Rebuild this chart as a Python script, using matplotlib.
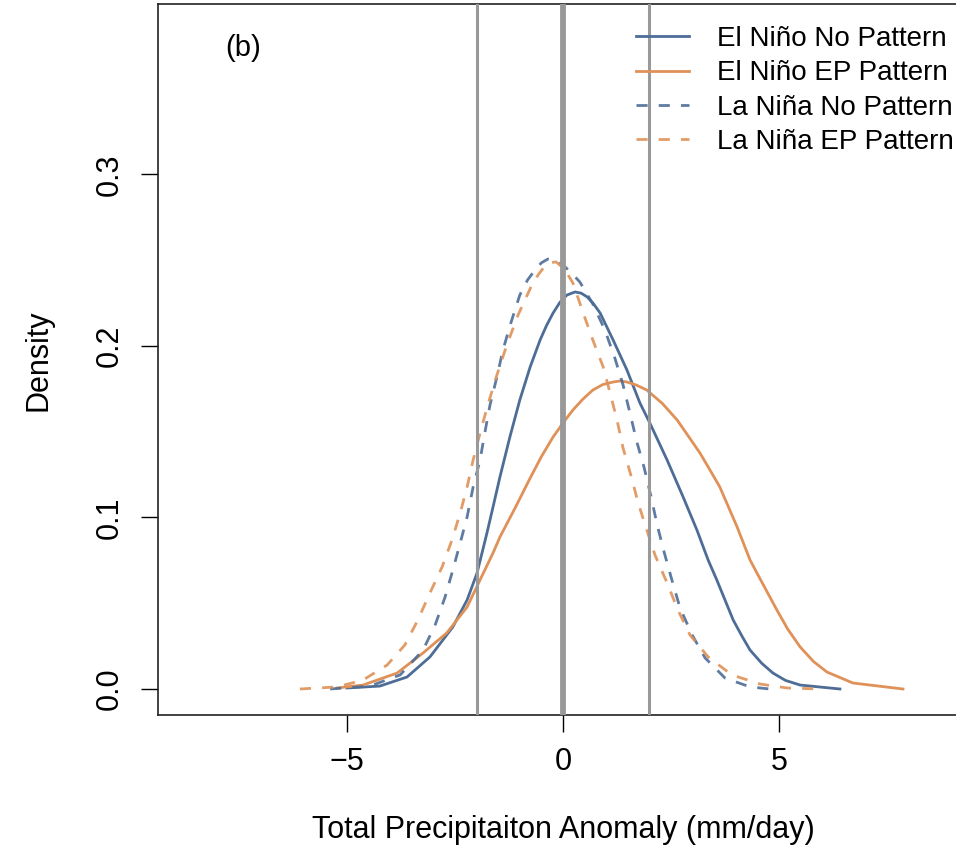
import numpy as np
import matplotlib.pyplot as plt

plt.rcParams['font.family'] = ['Liberation Sans', 'DejaVu Sans']

# curves (x: anomaly in mm/day, y: density)
nino_no_x = [-5.00, -4.24, -3.61, -3.08, -2.55, -2.22, -1.99, -1.76, -1.62, -1.46,
             -1.23, -1.00, -0.76, -0.53, -0.38, -0.23, -0.07, 0.09, 0.28, 0.42,
             0.56, 0.70, 0.86, 1.16, 1.48, 1.78, 2.01, 2.41, 2.78, 3.10,
             3.36, 3.56, 3.94, 4.15, 4.33, 4.60, 4.86, 5.15, 5.49, 6.41]
nino_no_y = [0.0006, 0.0017, 0.0070, 0.0187, 0.0362, 0.0519, 0.0676, 0.0910, 0.1061, 0.1236,
             0.1469, 0.1685, 0.1878, 0.2035, 0.2120, 0.2192, 0.2255, 0.2297, 0.2315, 0.2308,
             0.2286, 0.2248, 0.2192, 0.2035, 0.1860, 0.1668, 0.1551, 0.1335, 0.1120, 0.0927,
             0.0752, 0.0636, 0.0402, 0.0305, 0.0227, 0.0150, 0.0093, 0.0050, 0.0023, 0.0]

nino_ep_x = [-5.23, -4.63, -3.84, -3.24, -2.69, -2.22, -1.92, -1.62, -1.46, -1.11,
             -0.76, -0.50, -0.23, 0.00, 0.23, 0.46, 0.69, 0.92, 1.16, 1.32,
             1.48, 1.70, 1.94, 2.30, 2.64, 2.90, 3.17, 3.40, 3.63, 4.03,
             4.33, 4.49, 4.95, 5.20, 5.49, 5.80, 6.11, 6.71, 7.87]
nino_ep_y = [0.0006, 0.0023, 0.0093, 0.0210, 0.0327, 0.0478, 0.0636, 0.0793, 0.0886, 0.1055,
             0.1230, 0.1355, 0.1469, 0.1551, 0.1627, 0.1690, 0.1743, 0.1775, 0.1790, 0.1796,
             0.1790, 0.1772, 0.1743, 0.1665, 0.1569, 0.1475, 0.1376, 0.1278, 0.1178, 0.0945,
             0.0752, 0.0676, 0.0461, 0.0350, 0.0245, 0.0160, 0.0099, 0.0035, 0.0]

nina_no_x = [-5.39, -4.47, -3.77, -3.24, -2.96, -2.73, -2.55, -2.38, -2.22, -2.08,
             -1.92, -1.81, -1.69, -1.53, -1.39, -1.20, -1.00, -0.82, -0.65, -0.50,
             -0.35, -0.14, 0.00, 0.18, 0.39, 0.68, 0.97, 1.20, 1.39, 1.55,
             1.71, 1.88, 2.04, 2.18, 2.34, 2.52, 2.71, 2.99, 3.29, 3.75,
             4.33, 4.79]
nina_no_y = [0.0, 0.0017, 0.0082, 0.0227, 0.0373, 0.0536, 0.0694, 0.0851, 0.1003, 0.1178,
             0.1335, 0.1493, 0.1656, 0.1819, 0.1977, 0.2140, 0.2297, 0.2385, 0.2443, 0.2485,
             0.2507, 0.2496, 0.2472, 0.2430, 0.2373, 0.2250, 0.2093, 0.1930, 0.1773, 0.1609,
             0.1440, 0.1289, 0.1120, 0.0956, 0.0799, 0.0636, 0.0472, 0.0315, 0.0181, 0.0064,
             0.0012, 0.0]

nina_ep_x = [-6.09, -5.23, -4.63, -4.07, -3.66, -3.36, -3.08, -2.80, -2.57, -2.38,
             -2.22, -2.08, -1.92, -1.74, -1.53, -1.30, -1.04, -0.72, -0.56, -0.42,
             -0.29, -0.16, 0.03, 0.23, 0.46, 0.69, 0.93, 1.09, 1.25, 1.39,
             1.57, 1.74, 1.94, 2.13, 2.41, 2.66, 2.94, 3.36, 3.91, 4.56,
             5.19, 5.95]
nina_ep_y = [0.0, 0.0012, 0.0052, 0.0140, 0.0257, 0.0402, 0.0560, 0.0711, 0.0869, 0.1026,
             0.1178, 0.1335, 0.1493, 0.1656, 0.1831, 0.2006, 0.2181, 0.2356, 0.2420, 0.2466,
             0.2486, 0.2490, 0.2450, 0.2367, 0.2198, 0.2035, 0.1878, 0.1726, 0.1569, 0.1405,
             0.1248, 0.1085, 0.0927, 0.0781, 0.0618, 0.0461, 0.0315, 0.0187, 0.0082, 0.0029,
             0.0006, 0.0]

labels = ["El Niño No Pattern", "El Niño EP Pattern", "La Niña No Pattern", "La Niña EP Pattern"]
vlines = [-2, 0, 2]

blue = "#4d6d97"
orange = "#df9158"

fig = plt.figure(figsize=(9.56, 8.55), dpi=100)
ax = fig.add_axes([158 / 956, 1 - 715 / 855, 810 / 956, 711 / 855])

lw = 2.0
kw = dict(solid_joinstyle="round", dash_joinstyle="round")
ax.plot(nino_no_x, nino_no_y, color=blue, lw=lw, label=labels[0], **kw)
ax.plot(nino_ep_x, nino_ep_y, color=orange, lw=lw, label=labels[1], **kw)
ax.plot(nina_no_x, nina_no_y, color=blue, lw=lw, ls=(0, (4, 4)), alpha=0.9, label=labels[2], **kw)
ax.plot(nina_ep_x, nina_ep_y, color=orange, lw=lw, ls=(0, (4, 4)), alpha=0.9, label=labels[3], **kw)

for v in vlines:
    ax.axvline(v, color="#999999", lw=4.2 if v == 0 else 2.2, zorder=5)

ax.set_xlim(-9.375, 9.375)
ax.set_ylim(-0.01516, 0.3994)
ax.set_xticks([-5, 0, 5])
ax.set_xticklabels(["\u22125", "0", "5"])
ax.set_yticks([0.0, 0.1, 0.2, 0.3])
ax.set_yticklabels(["0.0", "0.1", "0.2", "0.3"], rotation=90, va="center")
ax.tick_params(axis="both", length=12, width=1, labelsize=22, direction="out")
ax.tick_params(axis="x", pad=11)
ax.tick_params(axis="y", pad=12)
for s in ax.spines.values():
    s.set_linewidth(1.2)
    s.set_color("#222222")

fig.text(563 / 956, 1 - 830 / 855, "Total Precipitaiton Anomaly (mm/day)",
         ha="center", va="center", fontsize=22)
fig.text(38 / 956, 1 - 360 / 855, "Density", rotation=90,
         ha="center", va="center", fontsize=22)
ax.text(-7.4, 0.374, "(b)", fontsize=21, ha="center", va="center")

leg = ax.legend(loc="upper left", bbox_to_anchor=(636 / 956, 1 - 26 / 855),
                bbox_transform=fig.transFigure, frameon=False, fontsize=20,
                handlelength=1.9, handletextpad=1.0, labelspacing=0.3,
                borderpad=0, borderaxespad=0)

fig.savefig("out.png", dpi=100)
